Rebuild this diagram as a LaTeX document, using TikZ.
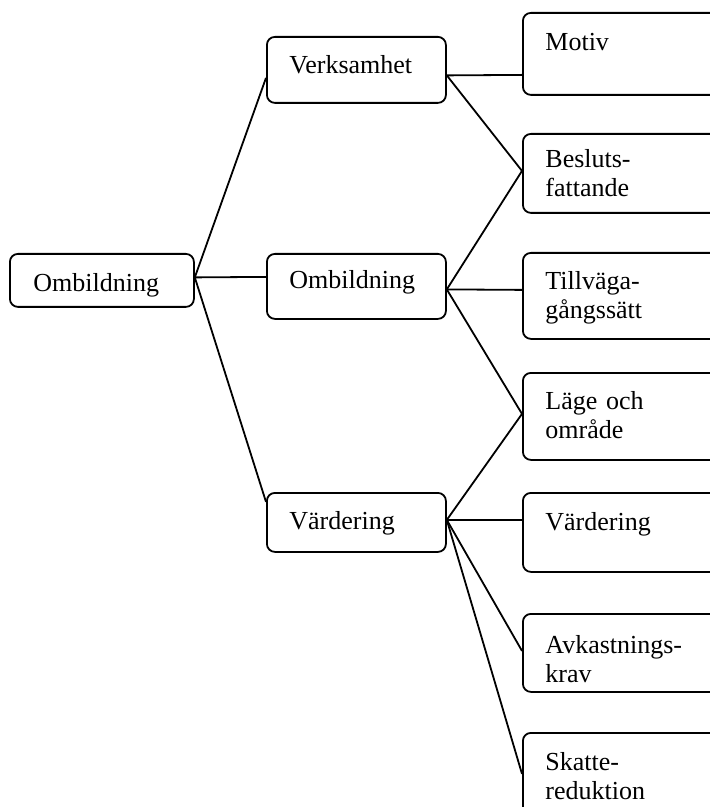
\documentclass[tikz,border=0pt]{standalone}
\usepackage{fontspec}
\setmainfont{Liberation Serif}
\begin{document}
\begin{tikzpicture}[x=0.5pt,y=-0.5pt,
  box/.style={draw,line width=0.9pt,rounded corners=4pt,inner sep=0pt,anchor=north west},
  lbl/.style={inner sep=0pt,anchor=base west,align=left,text width=95pt,font=\fontsize{13pt}{14.5pt}\selectfont},
  conn/.style={line width=0.9pt}]
\clip (0,0) rectangle (710,807);
% boxes
\node[box,minimum width=92pt,minimum height=26.5pt] (L0) at (9,253) {};
\node[box,minimum width=89.5pt,minimum height=33pt] (V) at (266,36) {};
\node[box,minimum width=89.5pt,minimum height=32.5pt] (O) at (266,253) {};
\node[box,minimum width=89.5pt,minimum height=29.5pt] (W) at (266,492) {};
\node[box,minimum width=100pt,minimum height=41pt] (R1) at (522,12) {};
\node[box,minimum width=100pt,minimum height=39.5pt] (R2) at (522,133) {};
\node[box,minimum width=100pt,minimum height=43pt] (R3) at (522,252) {};
\node[box,minimum width=100pt,minimum height=43.5pt] (R4) at (522,372) {};
\node[box,minimum width=100pt,minimum height=39.5pt] (R5) at (522,492) {};
\node[box,minimum width=100pt,minimum height=39pt] (R6) at (522,613) {};
\node[box,minimum width=100pt,minimum height=42.5pt] (R7) at (522,732) {};
% labels
\node[lbl] (tL0) at ([xshift=12pt,yshift=-19.5pt]L0.north west) {Ombildning};
\node[lbl] (tV) at ([xshift=11.5pt,yshift=-19pt]V.north west) {Verksamhet};
\node[lbl] (tO) at ([xshift=11.5pt,yshift=-18pt]O.north west) {Ombildning};
\node[lbl] (tW) at ([xshift=11.5pt,yshift=-18.5pt]W.north west) {Värdering};
\node[lbl] (tR1) at ([xshift=11.5pt,yshift=-19.5pt]R1.north west) {Motiv};
\node[lbl] (tR2) at ([xshift=11.5pt,yshift=-17.5pt]R2.north west) {Besluts-\\fattande};
\node[lbl] (tR3) at ([xshift=11.5pt,yshift=-19pt]R3.north west) {Tillväga-\\gångssätt};
\node[lbl] (tR4) at ([xshift=11.5pt,yshift=-18.5pt]R4.north west) {Läge och\\område};
\node[lbl] (tR5) at ([xshift=11.5pt,yshift=-19pt]R5.north west) {Värdering};
\node[lbl] (tR6) at ([xshift=11.5pt,yshift=-20pt]R6.north west) {Avkastnings-\\krav};
\node[lbl] (tR7) at ([xshift=11.5pt,yshift=-19pt]R7.north west) {Skatte-\\reduktion};
% connectors
\draw[conn] ([yshift=1.5pt]L0.east) -- ([yshift=-4pt]V.west);
\draw[conn] ([yshift=1.5pt]L0.east) -- ([yshift=4.75pt]O.west);
\draw[conn] ([yshift=1.5pt]L0.east) -- ([yshift=10.25pt]W.west);
\draw[conn] ([yshift=-2.75pt]V.east) -- ([yshift=-10.5pt]R1.west);
\draw[conn] ([yshift=-2.75pt]V.east) -- ([yshift=1.25pt]R2.west);
\draw[conn] ([yshift=-1.5pt]O.east) -- ([yshift=1.25pt]R2.west);
\draw[conn] ([yshift=-1.5pt]O.east) -- ([yshift=3pt]R3.west);
\draw[conn] ([yshift=-1.5pt]O.east) -- ([yshift=1.25pt]R4.west);
\draw[conn] ([yshift=1.25pt]W.east) -- ([yshift=1.25pt]R4.west);
\draw[conn] ([yshift=1.25pt]W.east) -- ([yshift=6.25pt]R5.west);
\draw[conn] ([yshift=1.25pt]W.east) -- ([yshift=1pt]R6.west);
\draw[conn] ([yshift=1.25pt]W.east) -- ([yshift=0.75pt]R7.west);
\end{tikzpicture}
\end{document}
